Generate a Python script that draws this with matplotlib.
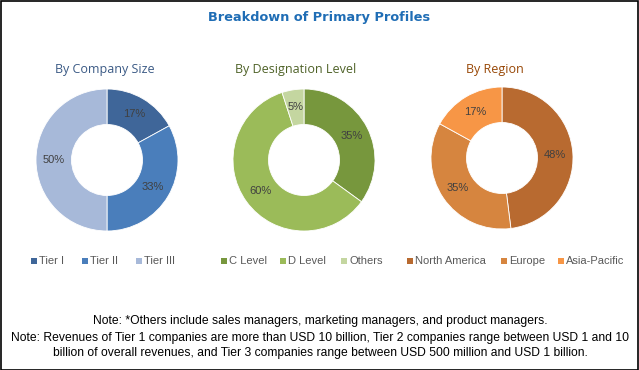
import matplotlib
matplotlib.use("Agg")
import matplotlib.pyplot as plt
from matplotlib.patches import Rectangle

W, H = 639, 370

title = "Breakdown of Primary Profiles"
panel_titles = ["By Company Size", "By Designation Level", "By Region"]
title_colors = ["#3b5a85", "#4f6228", "#984807"]

size_labels = ["Tier I", "Tier II", "Tier III"]
size_values = [17, 33, 50]
size_colors = ["#3f6699", "#4a7ebb", "#a7b9d9"]

desig_labels = ["C Level", "D Level", "Others"]
desig_values = [35, 60, 5]
desig_colors = ["#77973d", "#9bbb59", "#c4d6a0"]

region_labels = ["North America", "Europe", "Asia-Pacific"]
region_values = [48, 35, 17]
region_colors = ["#b86a30", "#d6853f", "#f79646"]

notes = [
    "Note: *Others include sales managers, marketing managers, and product managers.",
    "Note: Revenues of Tier 1 companies are more than USD 10 billion, Tier 2 companies range between USD 1 and 10",
    "billion of overall revenues, and Tier 3 companies range between USD 500 million and USD 1 billion.",
]

fig = plt.figure(figsize=(W / 100, H / 100), dpi=100)
fig.patch.set_facecolor("white")

# border
fig.add_artist(Rectangle((0.5 / W, 0.5 / H), 1 - 1.5 / W, 1 - 1.5 / H,
                         transform=fig.transFigure, fill=False,
                         edgecolor="black", linewidth=1.2))

fig.text(319 / W, 1 - 18 / H, title, ha="center", va="center",
         fontsize=9.3, fontweight="bold", color="#1f6db5",
         family="DejaVu Sans")

panels = [
    (107, 160, size_labels, size_values, size_colors, 105, [31, 82, 136]),
    (304, 160, desig_labels, desig_values, desig_colors, 296, [221, 280, 341]),
    (502, 158, region_labels, region_values, region_colors, 495, [407, 501, 558]),
]

R = 71
for i, (cx, cy, labels, values, colors, tx, lx) in enumerate(panels):
    ax = fig.add_axes([(cx - R) / W, (H - cy - R) / H, 2 * R / W, 2 * R / H])
    wedges, texts, autotexts = ax.pie(
        values, colors=colors, startangle=90, counterclock=False,
        wedgeprops=dict(width=0.5, edgecolor="white", linewidth=0.6),
        autopct=lambda p: f"{p:.0f}%", pctdistance=0.75,
        textprops=dict(fontsize=8, color="#404040", family="Liberation Sans"))
    ax.set_xlim(-1, 1)
    ax.set_ylim(-1, 1)
    ax.set_aspect("equal")
    ax.axis("off")

    fig.text(tx / W, 1 - 70 / H, panel_titles[i], ha="center", va="center",
             fontsize=9, color=title_colors[i], family="Open Sans")

    for j, lab in enumerate(labels):
        x0 = lx[j]
        fig.add_artist(Rectangle(((x0) / W, (H - 263.5) / H), 6 / W, 6 / H,
                                 transform=fig.transFigure,
                                 facecolor=colors[j], edgecolor="none"))
        fig.text((x0 + 8) / W, 1 - 260.5 / H, lab, ha="left", va="center",
                 fontsize=8, color="#595959", family="Liberation Sans")

ys = [321, 338, 353]
for t, y in zip(notes, ys):
    fig.text(320 / W, 1 - y / H, t, ha="center", va="center",
             fontsize=8.7, color="black", family="Liberation Sans")

fig.savefig("out.png", dpi=100)
